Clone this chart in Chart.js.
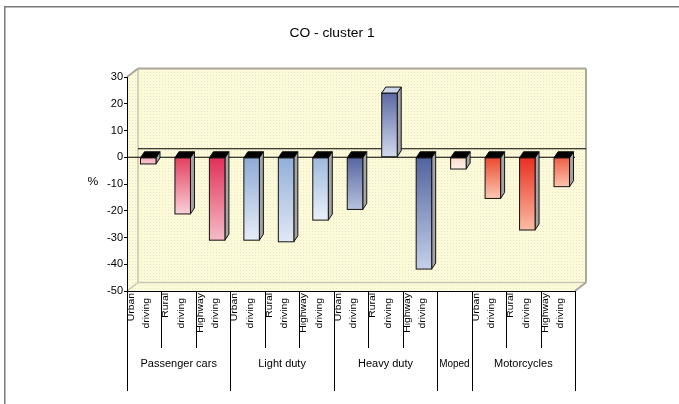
<!DOCTYPE html>
<html>
<head>
<meta charset="utf-8">
<script src="https://cdn.jsdelivr.net/npm/chart.js@4/dist/chart.umd.min.js"></script>
<style>
  html, body { margin: 0; padding: 0; background: #fff; }
  canvas { display: block; }
</style>
</head>
<body>
<canvas id="c" width="679" height="404"></canvas>
<script>
// ---- data ----
const chartTitle = 'CO - cluster 1';
const yTitle = '%';
const groupNames = ['Passenger cars', 'Light duty', 'Heavy duty', 'Moped', 'Motorcycles'];
const categoryGroup = [0, 0, 0, 1, 1, 1, 2, 2, 2, 3, 4, 4, 4];
const modeLabels = [
  ['Urban', 'driving'], ['Rural', 'driving'], ['Highway', 'driving'],
  ['Urban', 'driving'], ['Rural', 'driving'], ['Highway', 'driving'],
  ['Urban', 'driving'], ['Rural', 'driving'], ['Highway', 'driving'],
  [],
  ['Urban', 'driving'], ['Rural', 'driving'], ['Highway', 'driving']
];
const values = [-2.5, -21.2, -31.0, -31.0, -31.6, -23.5, -19.5, 24.0, -41.8, -4.4, -15.4, -27.2, -11.0];
const yTicks = [30, 20, 10, 0, -10, -20, -30, -40, -50];

// ---- styles ----
const barShades = [
  ['#f4aebd', '#f8c4ce'],
  ['#e3405f', '#f9d0d8'],
  ['#e2305a', '#f5bcc8'],
  ['#8eaad6', '#e6edf7'],
  ['#92aed8', '#e2e9f5'],
  ['#9ebadf', '#eaf0f9'],
  ['#56679f', '#b8c3df'],
  ['#5a6aa3', '#d2d9ed'],
  ['#52649f', '#c6d0ea'],
  ['#fad8c8', '#fff2ea'],
  ['#eb4a30', '#fcc8b4'],
  ['#ea2e20', '#fbbca4'],
  ['#ef5e46', '#fcc4ac']
];
const FONT = '"Liberation Sans", Arial, sans-serif';
const WALL_DX = 11, WALL_DY = 8.5;   // depth of the 3D walls
const BAR_DX = 4, BAR_DY = 6;        // depth of each column
const BAR_SHIFT = 4;                 // columns sit mid-depth

function makePattern(ctx) {
  const p = document.createElement('canvas');
  p.width = 6; p.height = 6;
  const g = p.getContext('2d');
  g.fillStyle = '#fdfad8'; g.fillRect(0, 0, 6, 6);
  g.fillStyle = '#eee0d0'; g.fillRect(0, 0, 1, 1); g.fillRect(3, 3, 1, 1);
  g.fillStyle = '#e4ebd4'; g.fillRect(3, 0, 1, 1); g.fillRect(0, 3, 1, 1);
  return ctx.createPattern(p, 'repeat');
}

function stretchedText(ctx, text, x, y, sx, align, font) {
  ctx.save();
  ctx.font = font;
  ctx.translate(x, y);
  ctx.scale(sx, 1);
  ctx.textAlign = align;
  ctx.fillText(text, 0, 0);
  ctx.restore();
}

function line(ctx, x1, y1, x2, y2) {
  ctx.beginPath(); ctx.moveTo(x1, y1); ctx.lineTo(x2, y2); ctx.stroke();
}

const scene = {
  id: 'scene',
  beforeDraw(chart) {
    const ctx = chart.ctx;
    const a = chart.chartArea;
    ctx.save();
    ctx.fillStyle = '#fff';
    ctx.fillRect(0, 0, chart.width, chart.height);

    // outer frame
    ctx.strokeStyle = '#7a7a7a';
    ctx.lineWidth = 1.5;
    ctx.beginPath();
    ctx.moveTo(4.75, chart.height);
    ctx.lineTo(4.75, 6.75);
    ctx.lineTo(chart.width, 6.75);
    ctx.stroke();

    // walls and floor
    const L = a.left, R = a.right, T = a.top, B = a.bottom;
    ctx.fillStyle = makePattern(ctx);
    ctx.beginPath();
    ctx.moveTo(L, T);
    ctx.lineTo(L + WALL_DX, T - WALL_DY);
    ctx.lineTo(R + WALL_DX, T - WALL_DY);
    ctx.lineTo(R + WALL_DX, B - WALL_DY);
    ctx.lineTo(R, B);
    ctx.lineTo(L, B);
    ctx.closePath();
    ctx.fill();

    ctx.strokeStyle = '#c9c5b8';
    ctx.lineWidth = 1.5;
    line(ctx, L + WALL_DX, T - WALL_DY, L + WALL_DX, B - WALL_DY);
    line(ctx, L + WALL_DX, B - WALL_DY, R + WALL_DX, B - WALL_DY);
    line(ctx, L, B, L + WALL_DX, B - WALL_DY);
    ctx.strokeStyle = '#aaa69c';
    ctx.lineWidth = 2;
    line(ctx, L, T, L + WALL_DX, T - WALL_DY);
    line(ctx, L + WALL_DX, T - WALL_DY, R + WALL_DX, T - WALL_DY);
    line(ctx, R + WALL_DX, T - WALL_DY, R + WALL_DX, B - WALL_DY);
    line(ctx, R + WALL_DX, B - WALL_DY, R, B);

    // title and axis title
    ctx.fillStyle = '#000';
    ctx.textBaseline = 'alphabetic';
    stretchedText(ctx, chartTitle, 332, 37, 1.15, 'center', '12px ' + FONT);
    ctx.textBaseline = 'middle';
    stretchedText(ctx, yTitle, 93, 182, 1.1, 'center', '11px ' + FONT);
    ctx.restore();
  },
  afterDatasetsDraw(chart) {
    const ctx = chart.ctx;
    const a = chart.chartArea;
    const ys = chart.scales.y;
    const zeroY = ys.getPixelForValue(0);
    ctx.save();

    // zero lines: front edge and on the back wall
    ctx.strokeStyle = '#000';
    ctx.lineWidth = 1.2;
    line(ctx, a.left, zeroY, a.right, zeroY);
    line(ctx, a.left + WALL_DX, zeroY - WALL_DY, a.right + WALL_DX, zeroY - WALL_DY);

    // columns
    const meta = chart.getDatasetMeta(0);
    meta.data.forEach((el, i) => {
      const w = el.width;
      const cx = el.x + BAR_SHIFT;
      const x0 = cx - w / 2, x1 = cx + w / 2;
      const top = Math.min(el.y, el.base), bot = Math.max(el.y, el.base);
      const positive = values[i] >= 0;

      // side face
      ctx.beginPath();
      ctx.moveTo(x1, top);
      ctx.lineTo(x1 + BAR_DX, top - BAR_DY);
      ctx.lineTo(x1 + BAR_DX, bot - BAR_DY);
      ctx.lineTo(x1, bot);
      ctx.closePath();
      ctx.fillStyle = '#a4a4a4';
      ctx.fill();
      ctx.lineWidth = 1;
      ctx.strokeStyle = '#111';
      ctx.stroke();

      // front face
      const g = ctx.createLinearGradient(0, top, 0, bot);
      g.addColorStop(0, barShades[i][0]);
      g.addColorStop(1, barShades[i][1]);
      ctx.fillStyle = g;
      ctx.fillRect(x0, top, w, bot - top);
      ctx.strokeRect(x0, top, w, bot - top);

      // top face
      ctx.beginPath();
      ctx.moveTo(x0, top);
      ctx.lineTo(x0 + BAR_DX, top - BAR_DY);
      ctx.lineTo(x1 + BAR_DX, top - BAR_DY);
      ctx.lineTo(x1, top);
      ctx.closePath();
      ctx.fillStyle = positive ? '#cfd5e8' : '#000';
      ctx.fill();
      ctx.stroke();
    });

    // category table under the floor
    const n = values.length;
    const slot = (a.right - a.left) / n;
    const B = a.bottom;
    ctx.strokeStyle = '#000';
    ctx.lineWidth = 1;
    line(ctx, a.left, B + 0.5, a.right, B + 0.5);
    for (let i = 0; i <= n; i++) {
      const x = Math.round(a.left + i * slot) + 0.5;
      const groupEdge = i === 0 || i === n || categoryGroup[i] !== categoryGroup[i - 1];
      line(ctx, x, B, x, groupEdge ? 391 : 348);
    }

    // rotated mode labels
    ctx.fillStyle = '#000';
    ctx.textBaseline = 'middle';
    ctx.font = '9px ' + FONT;
    modeLabels.forEach((lines, i) => {
      const left = a.left + i * slot;
      lines.forEach((txt, k) => {
        ctx.save();
        ctx.translate(left + 4.5 + k * 15.5, B + 2 + k * 5);
        ctx.rotate(-Math.PI / 2);
        ctx.scale(1.15, 1);
        ctx.textAlign = 'right';
        ctx.fillText(txt, 0, 0);
        ctx.restore();
      });
    });

    // group labels
    const groupFont = '10px ' + FONT;
    ctx.font = groupFont;
    groupNames.forEach((name, gi) => {
      const idx = categoryGroup.map((g, i) => g === gi ? i : -1).filter(i => i >= 0);
      const xs = a.left + idx[0] * slot;
      const xe = a.left + (idx[idx.length - 1] + 1) * slot;
      const sx = Math.min(1.1, (xe - xs - 4) / ctx.measureText(name).width);
      stretchedText(ctx, name, (xs + xe) / 2, 364, sx, 'center', groupFont);
    });
    ctx.restore();
  }
};

const categoryNames = modeLabels.map((m, i) => groupNames[categoryGroup[i]] + (m.length ? ' ' + m.join(' ') : ''));

new Chart(document.getElementById('c'), {
  type: 'bar',
  data: {
    labels: categoryNames,
    datasets: [{
      data: values,
      backgroundColor: 'rgba(0,0,0,0)',
      borderWidth: 0,
      barPercentage: 0.45,
      categoryPercentage: 1
    }]
  },
  options: {
    responsive: false,
    animation: false,
    devicePixelRatio: 1,
    layout: { padding: { left: 0, right: 104, top: 77, bottom: 113 } },
    plugins: {
      legend: { display: false },
      tooltip: { enabled: false },
      title: { display: false }
    },
    scales: {
      x: { display: false },
      y: {
        min: -50,
        max: 30,
        afterFit(scale) { scale.width = 127; },
        afterBuildTicks(scale) { scale.ticks = yTicks.map(v => ({ value: v })); },
        ticks: {
          color: '#000',
          padding: 1,
          font: { family: FONT, size: 11 }
        },
        grid: { drawOnChartArea: false, tickLength: 3, color: '#000' },
        border: { color: '#000', width: 1 }
      }
    }
  },
  plugins: [scene]
});
</script>
</body>
</html>
